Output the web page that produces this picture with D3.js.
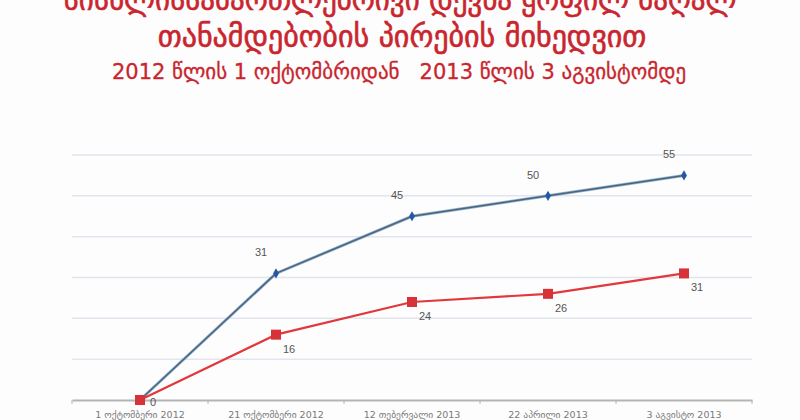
<!DOCTYPE html>
<html>
<head>
<meta charset="utf-8">
<script src="https://cdn.jsdelivr.net/npm/d3@7"></script>
<style>
  body { margin: 0; background: #fff; }
  svg { display: block; }
</style>
</head>
<body>
<svg></svg>
<script>
const dates = [
  '1 ოქტომბერი 2012',
  '21 ოქტომბერი 2012',
  '12 თებერვალი 2013',
  '22 აპრილი 2013',
  '3 აგვისტო 2013',
];
const blueValues = [0, 31, 45, 50, 55];
const redValues = [0, 16, 24, 26, 31];
const yTicks = [0, 10, 20, 30, 40, 50, 60];

const titleLines = [
  'სისხლისსამართლებრივი დევნა ყოფილ მაღალ',
  'თანამდებობის პირების მიხედვით',
  '2012 წლის 1 ოქტომბრიდან   2013 წლის 3 აგვისტომდე',
];

const width = 800;
const height = 420;
const plotLeft = 72;
const plotRight = 752;
const plotTop = 155;
const plotBottom = 400;

const svg = d3.select('svg').attr('width', width).attr('height', height);

svg.append('rect').attr('width', width).attr('height', height).attr('fill', '#fdfdfd');

const titleFont = "'DejaVu Sans', sans-serif";
const red = '#c9252e';

svg.append('text')
  .attr('x', 400).attr('y', 10)
  .attr('text-anchor', 'middle')
  .attr('font-family', titleFont)
  .attr('font-size', 29)
  .attr('fill', red)
  .attr('stroke', red)
  .attr('stroke-width', 0.6)
  .text(titleLines[0]);

svg.append('text')
  .attr('x', 402).attr('y', 47)
  .attr('text-anchor', 'middle')
  .attr('font-family', titleFont)
  .attr('font-size', 30)
  .attr('fill', red)
  .attr('stroke', red)
  .attr('stroke-width', 0.6)
  .text(titleLines[1]);

svg.append('text')
  .attr('x', 399).attr('y', 79)
  .attr('text-anchor', 'middle')
  .attr('font-family', titleFont)
  .attr('font-size', 21)
  .attr('fill', red)
  .attr('stroke', red)
  .attr('stroke-width', 0.3)
  .style('white-space', 'pre')
  .text(titleLines[2]);

const x = d3.scaleBand().domain(dates).range([plotLeft, plotRight]);
const y = d3.scaleLinear().domain([0, 60]).range([plotBottom, plotTop]);
const cx = (i) => x(dates[i]) + x.bandwidth() / 2;

// grid
svg.append('g')
  .selectAll('line')
  .data(yTicks.slice(1))
  .enter()
  .append('line')
  .attr('x1', plotLeft).attr('x2', plotRight)
  .attr('y1', (d) => y(d)).attr('y2', (d) => y(d))
  .attr('stroke', '#e1e6ee')
  .attr('stroke-width', 1.5);

// x axis
const xAxis = d3.axisBottom(x).tickSize(0).tickPadding(11);
const gx = svg.append('g')
  .attr('transform', 'translate(0,' + plotBottom + ')')
  .call(xAxis);
gx.select('.domain').attr('stroke', '#b4b4b4').attr('stroke-width', 2);
gx.selectAll('text')
  .attr('font-family', "'DejaVu Sans', sans-serif")
  .attr('font-size', 9.5)
  .attr('fill', '#7a7a7a');

const boundaries = dates.map((d) => x(d)).concat([plotRight]);
gx.selectAll('.bound')
  .data(boundaries)
  .enter()
  .append('line')
  .attr('class', 'bound')
  .attr('x1', (d) => d).attr('x2', (d) => d)
  .attr('y1', 0).attr('y2', 4)
  .attr('stroke', '#b4b4b4');

const line = d3.line()
  .x((d, i) => cx(i))
  .y((d) => y(d));

// blue series
svg.append('path')
  .datum(blueValues)
  .attr('fill', 'none')
  .attr('stroke', '#8fb3d6')
  .attr('stroke-width', 3)
  .attr('d', line);
svg.append('path')
  .datum(blueValues)
  .attr('fill', 'none')
  .attr('stroke', '#4f6478')
  .attr('stroke-width', 1.5)
  .attr('d', line);

svg.append('g')
  .selectAll('path')
  .data(blueValues)
  .enter()
  .append('path')
  .attr('d', d3.symbol(d3.symbolDiamond, 30))
  .attr('transform', (d, i) => 'translate(' + cx(i) + ',' + y(d) + ')')
  .attr('fill', '#2457a6');

// red series
svg.append('path')
  .datum(redValues)
  .attr('fill', 'none')
  .attr('stroke', '#e2383d')
  .attr('stroke-width', 2.2)
  .attr('d', line);

svg.append('g')
  .selectAll('rect')
  .data(redValues)
  .enter()
  .append('rect')
  .attr('x', (d, i) => cx(i) - 5)
  .attr('y', (d) => y(d) - 5)
  .attr('width', 10)
  .attr('height', 10)
  .attr('fill', '#d7323a');

// labels
const labelFont = "'Liberation Sans', Arial, sans-serif";

svg.append('g')
  .selectAll('text')
  .data(blueValues.map((v, i) => ({ v, i })).filter((d) => d.v > 0))
  .enter()
  .append('text')
  .attr('x', (d) => cx(d.i) - 15)
  .attr('y', (d) => y(d.v) - 17)
  .attr('text-anchor', 'middle')
  .attr('font-family', labelFont)
  .attr('font-size', 11)
  .attr('fill', '#555')
  .text((d) => d.v);

svg.append('g')
  .selectAll('text')
  .data(redValues)
  .enter()
  .append('text')
  .attr('x', (d, i) => cx(i) + 13)
  .attr('y', (d) => Math.min(y(d) + 18, plotBottom + 6))
  .attr('text-anchor', 'middle')
  .attr('font-family', labelFont)
  .attr('font-size', 11)
  .attr('fill', '#555')
  .text((d) => d);
</script>
</body>
</html>
